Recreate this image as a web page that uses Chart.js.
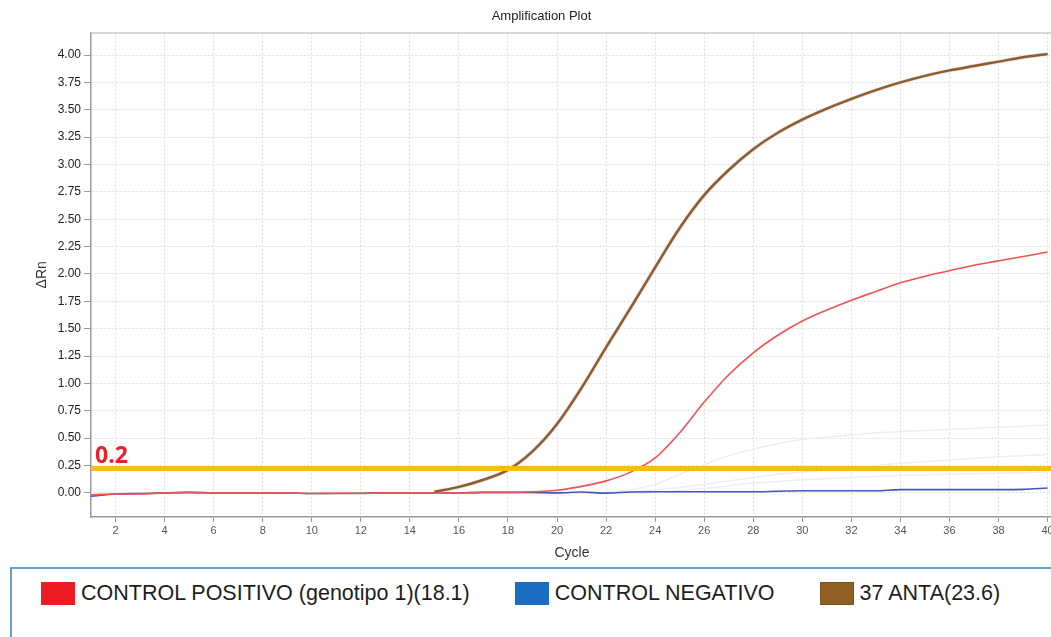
<!DOCTYPE html>
<html>
<head>
<meta charset="utf-8">
<script src="https://cdn.jsdelivr.net/npm/chart.js@4"></script>
<style>
  html, body { margin: 0; padding: 0; background: #fff; overflow: hidden; }
  body { width: 1051px; height: 637px; position: relative; }
  #wrap { position: absolute; left: 0; top: 0; width: 1076px; height: 566px; }
  #legendBox {
    position: absolute; left: 10px; top: 567px; width: 1100px; height: 100px;
    border: 2px solid #6a9fd6; box-sizing: border-box;
    font-family: "Liberation Sans", Arial, sans-serif; font-size: 21.5px; color: #1e1e1e;
  }
  #legendBox ul { list-style: none; margin: 0; padding: 12px 0 0 29px; display: flex; }
  #legendBox li { display: flex; align-items: center; margin-right: 45px; height: 25px; }
  .sw { display: inline-block; width: 34px; height: 23px; margin-right: 6px; box-sizing: border-box; }
</style>
</head>
<body>
<div id="wrap"><canvas id="ampChart" width="1076" height="566"></canvas></div>
<div id="legendBox"><ul id="legendList"></ul></div>
<script>
const cycles = [1, 2, 3, 4, 5, 6, 7, 8, 9, 10, 11, 12, 13, 14, 15, 16, 17, 18, 19, 20,
  21, 22, 23, 24, 25, 26, 27, 28, 29, 30, 31, 32, 33, 34, 35, 36, 37, 38, 39, 40];

// CONTROL POSITIVO
const positivo = [-0.02, -0.01, -0.01, 0.0, 0.005, 0.0, 0.0, 0.0, 0.0, -0.005,
  -0.003, -0.005, 0.0, 0.0, 0.0, 0.0, 0.005, 0.005, 0.01, 0.025,
  0.06, 0.11, 0.19, 0.32, 0.55, 0.83, 1.08, 1.28, 1.44, 1.57,
  1.67, 1.76, 1.84, 1.92, 1.98, 2.03, 2.08, 2.12, 2.16, 2.20];

// CONTROL NEGATIVO
const negativo = [-0.03, -0.01, -0.005, 0.0, 0.005, 0.0, 0.0, 0.0, 0.0, -0.005,
  -0.005, -0.003, 0.0, 0.0, 0.0, 0.0, 0.005, 0.005, 0.005, 0.0,
  0.008, -0.002, 0.008, 0.01, 0.01, 0.01, 0.01, 0.01, 0.015, 0.02,
  0.02, 0.02, 0.02, 0.03, 0.03, 0.03, 0.03, 0.03, 0.032, 0.045];

// 37 ANTA (empieza en el ciclo 15)
const anta = [null, null, null, null, null, null, null, null, null, null,
  null, null, null, null, 0.01, 0.055, 0.12, 0.21, 0.38, 0.63,
  0.96, 1.33, 1.69, 2.06, 2.42, 2.72, 2.95, 3.14, 3.29, 3.41,
  3.51, 3.60, 3.68, 3.75, 3.81, 3.86, 3.90, 3.94, 3.98, 4.01];

// otras muestras (casi invisibles)
const gris1 = [0, 0, 0, 0, 0, 0, 0, 0, 0, 0, 0, 0, 0, 0, 0, 0, 0, 0, 0, 0,
  0, 0.01, 0.03, 0.08, 0.17, 0.26, 0.34, 0.40, 0.45, 0.49,
  0.51, 0.53, 0.55, 0.56, 0.57, 0.58, 0.59, 0.60, 0.61, 0.62];
const gris2 = [0, 0, 0, 0, 0, 0, 0, 0, 0, 0, 0, 0, 0, 0, 0, 0, 0, 0, 0, 0,
  0, 0, 0.01, 0.03, 0.05, 0.08, 0.11, 0.14, 0.17, 0.19,
  0.21, 0.23, 0.25, 0.27, 0.285, 0.30, 0.315, 0.33, 0.34, 0.35];
const gris3 = [0, 0, 0, 0, 0, 0, 0, 0, 0, 0, 0, 0, 0, 0, 0, 0, 0, 0, 0, 0,
  0, 0, 0, 0, 0.02, 0.04, 0.065, 0.09, 0.105, 0.12,
  0.13, 0.14, 0.15, 0.16, 0.165, 0.17, 0.175, 0.18, 0.185, 0.19];

const threshold = 0.224;
const thresholdLabel = "0.2";
const xTicks = [2, 4, 6, 8, 10, 12, 14, 16, 18, 20, 22, 24, 26, 28, 30, 32, 34, 36, 38, 40];
const yTicks = [0, 0.25, 0.5, 0.75, 1, 1.25, 1.5, 1.75, 2, 2.25, 2.5, 2.75, 3, 3.25, 3.5, 3.75, 4];

const legendItems = [
  { label: "CONTROL POSITIVO (genotipo 1)(18.1)", color: "#ed1c24", border: "#ed1c24" },
  { label: "CONTROL NEGATIVO", color: "#1b6ebf", border: "#1b6ebf" },
  { label: "37 ANTA(23.6)", color: "#8f5f24", border: "#7a5220" }
];

const toPts = arr => cycles.map((c, i) => ({ x: c, y: arr[i] }));
const X_MIN = 1, X_MAX = 40.22;

// borde superior + texto "0.2"
const extras = {
  id: "extras",
  afterDatasetsDraw(chart) {
    const { ctx, chartArea, scales } = chart;
    const y = scales.y.getPixelForValue(threshold);
    ctx.save();
    ctx.strokeStyle = "#c9c9c9";
    ctx.lineWidth = 1.5;
    ctx.beginPath();
    ctx.moveTo(chartArea.left, chartArea.top + 0.5);
    ctx.lineTo(chartArea.right, chartArea.top + 0.5);
    ctx.stroke();
    ctx.fillStyle = "#e8202a";
    ctx.font = "bold 23px 'Open Sans', sans-serif";
    ctx.textBaseline = "alphabetic";
    ctx.fillText(thresholdLabel, chartArea.left + 4, y - 5);
    ctx.restore();
  }
};

const ctx = document.getElementById("ampChart").getContext("2d");
new Chart(ctx, {
  type: "line",
  data: {
    datasets: [
      { data: [{ x: X_MIN, y: threshold }, { x: X_MAX, y: threshold }], borderColor: "#fbbd16", borderWidth: 5, order: 1 },
      { data: toPts(anta), borderColor: "#8d5f25", borderWidth: 2.5, order: 2 },
      { data: toPts(anta), borderColor: "rgba(200,175,235,0.45)", borderWidth: 4, order: 3 },
      { data: toPts(positivo), borderColor: "#f25252", borderWidth: 1.6, order: 4 },
      { data: toPts(negativo), borderColor: "#4656b4", borderWidth: 1.6, order: 5 },
      { data: toPts(gris1), borderColor: "#eeeeee", borderWidth: 1.5, order: 6 },
      { data: toPts(gris2), borderColor: "#eeeeee", borderWidth: 1.5, order: 7 },
      { data: toPts(gris3), borderColor: "#eeeeee", borderWidth: 1.5, order: 8 }
    ]
  },
  options: {
    responsive: false,
    animation: false,
    devicePixelRatio: 1,
    elements: {
      point: { radius: 0 },
      line: { cubicInterpolationMode: "monotone", fill: false }
    },
    layout: { padding: { left: 30, right: 23, top: 0, bottom: 0 } },
    plugins: {
      legend: { display: false },
      tooltip: { enabled: false },
      title: {
        display: true,
        text: "Amplification Plot",
        color: "#222",
        font: { family: "'Liberation Sans', Arial, sans-serif", size: 13, weight: "normal" },
        padding: { top: 9, bottom: 8 }
      }
    },
    scales: {
      x: {
        type: "linear",
        min: X_MIN,
        max: X_MAX,
        afterBuildTicks: axis => { axis.ticks = xTicks.map(v => ({ value: v })); },
        ticks: {
          color: "#555",
          font: { family: "'Liberation Sans', Arial, sans-serif", size: 11 },
          padding: 2,
          maxRotation: 0
        },
        grid: { color: "#dcdcdc", tickColor: "#999", tickLength: 5, tickBorderDash: [] },
        border: { color: "#9a9a9a", width: 1.5, dash: [2, 2] },
        title: {
          display: true,
          text: "Cycle",
          color: "#333",
          font: { family: "'Liberation Sans', Arial, sans-serif", size: 14 },
          padding: { top: 6, bottom: 4 }
        }
      },
      y: {
        type: "linear",
        min: -0.22,
        max: 4.205,
        afterBuildTicks: axis => { axis.ticks = yTicks.map(v => ({ value: v })); },
        afterFit: axis => { axis.width = 61; },
        ticks: {
          color: "#222",
          font: { family: "'Liberation Sans', Arial, sans-serif", size: 12 },
          padding: 3,
          callback: v => Number(v).toFixed(2)
        },
        grid: { color: "#dcdcdc", tickColor: "#999", tickLength: 7, tickBorderDash: [] },
        border: { color: "#9a9a9a", width: 1.5, dash: [2, 2] },
        title: {
          display: true,
          text: "ΔRn",
          color: "#333",
          font: { family: "'Liberation Sans', Arial, sans-serif", size: 14 },
          padding: { top: 4, bottom: 4 }
        }
      }
    }
  },
  plugins: [extras]
});

// leyenda en caja aparte
const list = document.getElementById("legendList");
legendItems.forEach(item => {
  const li = document.createElement("li");
  li.innerHTML = `<span class="sw" style="background:${item.color};border:1px solid ${item.border}"></span><span>${item.label}</span>`;
  list.appendChild(li);
});
</script>
</body>
</html>
